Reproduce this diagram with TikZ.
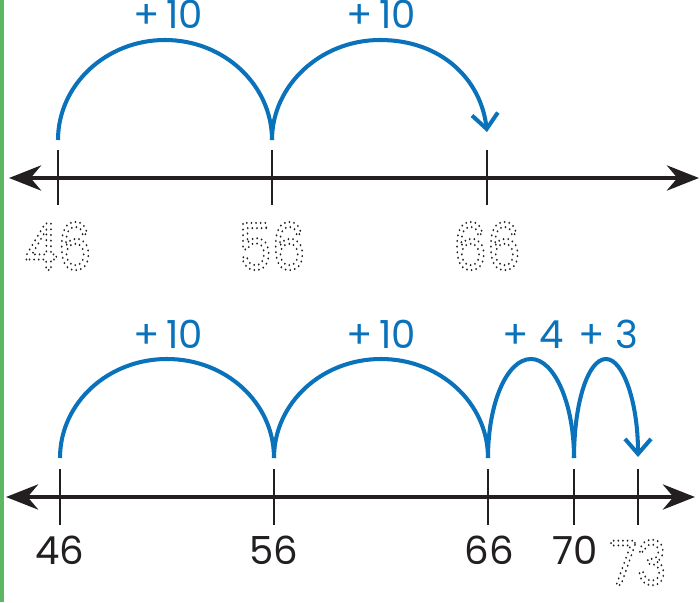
\documentclass[tikz,border=0pt]{standalone}
\usepackage{fontspec}
\setmainfont{Poppins}
\usetikzlibrary{arrows.meta}
\definecolor{jumpblue}{HTML}{0A72BA}
\definecolor{inkblack}{HTML}{231F20}
\definecolor{edgegreen}{HTML}{5DB761}
\newcommand{\traced}[1]{\special{pdf:literal direct 1 Tr 1.3 w 1 J [0 3.2] 0 d}#1\special{pdf:literal direct 0 Tr [] 0 d}}

\begin{document}
\begin{tikzpicture}[x=0.02cm,y=0.02cm,
    axis/.style={inkblack,line width=2.8pt,{Stealth[length=6.4mm,width=5mm]}-{Stealth[length=6.4mm,width=5mm]}},
    tickmark/.style={inkblack,line width=1.5pt},
    jump/.style={jumpblue,line width=2.3pt},
    jumpend/.style={jump,-{Straight Barb[length=3mm,width=5.2mm]}},
    hop/.style={anchor=base,text=jumpblue,font=\fontsize{22}{24}\selectfont},
    numlabel/.style={anchor=base,text=inkblack,font=\fontsize{22}{24}\selectfont},
    tracelabel/.style={anchor=base,inner sep=0pt,text=inkblack,xscale=0.82,transform shape,font=\fontsize{37}{40}\selectfont}
  ]
  \useasboundingbox (0,0) rectangle (700,602);
  \fill[edgegreen] (0,0) rectangle (4,602);

  % first number line
  \coordinate (tl) at (9,424);
  \coordinate (tr) at (699,424);
  \draw[axis] (tl) -- (tr);
  \foreach \x in {58,272,487}
    \draw[tickmark] (\x,397) -- (\x,452);
  \coordinate (a46) at (58,462);
  \coordinate (a56) at (272,462);
  \coordinate (a66) at (487,470);
  \coordinate (top1) at (165,562);
  \coordinate (top2) at (380,562);
  \draw[jump] (a46) .. controls +(0,55) and +(-59,0) .. (top1) .. controls +(59,0) and +(0,55) .. (a56);
  \draw[jumpend] (a56) .. controls +(0,55) and +(-59,0) .. (top2) .. controls +(62,0) and +(-6,52) .. (a66);
  \node[hop] (h1) at (168,573) {+\,10};
  \node[hop] (h2) at (381,573) {+\,10};
  \node[tracelabel] (n46) at (58,332) {\traced{46}};
  \node[tracelabel] (n56) at (272,332) {\traced{56}};
  \node[tracelabel] (n66) at (487,332) {\traced{66}};

  % second number line
  \coordinate (bl) at (6,105);
  \coordinate (br) at (695,105);
  \draw[axis] (bl) -- (br);
  \foreach \x in {60,274,488,574,638}
    \draw[tickmark] (\x,77) -- (\x,133);
  \coordinate (b46) at (60,144);
  \coordinate (b56) at (274,144);
  \coordinate (b66) at (488,144);
  \coordinate (b70) at (574,144);
  \coordinate (b73) at (638,145);
  \coordinate (bt1) at (167,243);
  \coordinate (bt2) at (381,243);
  \coordinate (bt3) at (531,243);
  \coordinate (bt4) at (606,243);
  \draw[jump] (b46) .. controls +(0,55) and +(-59,0) .. (bt1) .. controls +(59,0) and +(0,55) .. (b56);
  \draw[jump] (b56) .. controls +(0,55) and +(-59,0) .. (bt2) .. controls +(59,0) and +(0,55) .. (b66);
  \draw[jump] (b66) .. controls +(0,55) and +(-24,0) .. (bt3) .. controls +(23,0) and +(0,55) .. (b70);
  \draw[jumpend] (b70) .. controls +(0,55) and +(-18,0) .. (bt4) .. controls +(17,0) and +(0,55) .. (b73);
  \node[hop] (h3) at (168,253) {+\,10};
  \node[hop] (h4) at (381,253) {+\,10};
  \node[hop] (h5) at (533,253) {+\;4};
  \node[hop] (h6) at (608,253) {+\;3};
  \node[numlabel] (m46) at (60,37) {46};
  \node[numlabel] (m56) at (274,37) {56};
  \node[numlabel] (m66) at (489,37) {66};
  \node[numlabel] (m70) at (575,37) {70};
  \node[tracelabel,font=\fontsize{35}{38}\selectfont] (m73) at (638,17) {\traced{73}};
\end{tikzpicture}
\end{document}
